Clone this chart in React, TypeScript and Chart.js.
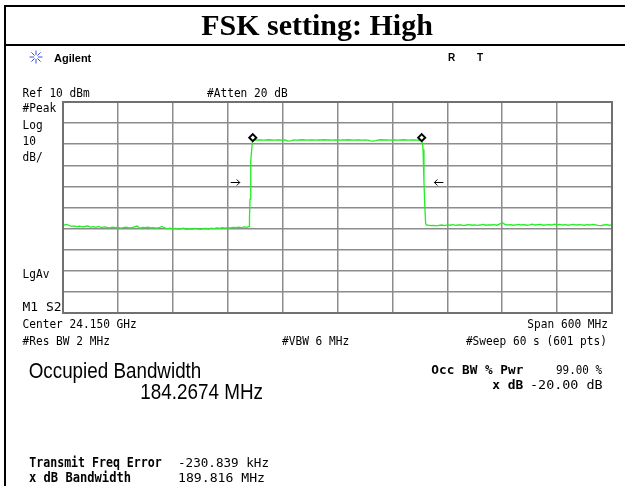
import React, { useEffect, useRef } from "react";
import { Chart, registerables } from "chart.js";

Chart.register(...registerables);

// ---------- text ----------
const titleText = "FSK setting: High";
const brandText = "Agilent";
const statusR = "R";
const statusT = "T";
const refLabel = "Ref 10 dBm";
const attenLabel = "#Atten 20 dB";
const leftLabels = ["#Peak", "Log", "10", "dB/"];
const avgLabel = "LgAv";
const markerLabel = "M1 S2";
const centerLabel = "Center 24.150 GHz";
const spanLabel = "Span 600 MHz";
const rbwLabel = "#Res BW 2 MHz";
const vbwLabel = "#VBW 6 MHz";
const sweepLabel = "#Sweep 60 s (601 pts)";
const occTitle = "Occupied Bandwidth";
const occValue = "184.2674 MHz";
const occPwrLabel = "Occ BW % Pwr";
const occPwrValue = "99.00 %";
const xdbLabel = "x dB";
const xdbValue = "-20.00 dB";
const freqErrLabel = "Transmit Freq Error";
const freqErrValue = "-230.839 kHz";
const xdbBwLabel = "x dB Bandwidth";
const xdbBwValue = "189.816 MHz";

// ---------- axes ----------
const spanStartMHz = 23850;
const spanEndMHz = 24450;
const divMHz = 60;
const refLevelDbm = 10;
const bottomLevelDbm = -90;
const dbPerDiv = 10;

// ---------- trace ----------
const sweepStepMHz = 3;
const leftNoiseStartMHz = 23850;
const leftNoiseDbm = [
  -48.6, -48.0, -48.3, -48.9, -48.7, -49.1, -48.8, -49.2, -49.0, -48.7,
  -49.3, -49.1, -49.4, -49.0, -49.5, -49.2, -49.4, -49.7, -49.3, -49.6,
  -49.4, -49.8, -49.5, -49.3, -49.7, -49.6, -49.2, -48.8, -49.8, -49.4,
  -49.6, -49.3, -49.7, -49.5, -49.8, -49.6, -49.0, -49.7, -50.0, -49.8,
  -50.1, -49.9, -50.2, -50.0, -49.8, -50.3, -50.0, -50.2, -49.9, -50.1,
  -50.3, -50.0, -49.9, -50.2, -49.8, -50.0, -49.7, -49.9, -49.6, -49.8,
  -49.5, -49.7, -49.4, -49.6, -49.3, -49.5, -49.2, -49.4,
];
const leftEdgeMHz = [24053.5, 24053.8, 24054.4, 24055.2, 24056.5, 24057.2];
const leftEdgeDbm = [-49.0, -45.0, -36.0, -18.0, -11.0, -8.3];
const plateauStartMHz = 24060;
const plateauDbm = [
  -8.1, -8.0, -8.0, -8.1, -8.0, -7.9, -8.0, -8.1, -8.0, -8.0,
  -8.1, -8.0, -8.5, -8.4, -8.0, -8.1, -8.0, -7.9, -8.0, -8.1,
  -8.0, -8.0, -8.1, -8.0, -8.0, -7.9, -8.0, -8.0, -8.1, -8.0,
  -8.0, -8.1, -8.0, -8.0, -7.9, -8.0, -8.1, -8.0, -8.0, -8.1,
  -8.0, -8.1, -8.4, -8.5, -8.3, -8.0, -7.9, -8.0, -8.0, -8.1,
  -8.0, -8.0, -8.1, -8.0, -7.9, -8.0, -8.1, -8.0, -8.0, -8.1,
  -8.2,
];
const rightEdgeMHz = [24242.6, 24243.5, 24244.5, 24245.5, 24246.3, 24247.2];
const rightEdgeDbm = [-8.3, -12.5, -28.0, -40.0, -47.5, -48.4];
const rightNoiseStartMHz = 24249;
const rightNoiseDbm = [
  -48.4, -48.6, -48.5, -48.7, -48.5, -48.3, -48.6, -48.2, -48.4, -48.1,
  -48.5, -48.3, -48.2, -48.6, -48.3, -48.1, -48.4, -48.2, -48.5, -48.3,
  -48.0, -48.4, -48.2, -48.3, -48.1, -48.4, -47.9, -47.2, -48.0, -48.3,
  -48.1, -48.4, -48.2, -48.0, -48.3, -48.1, -48.4, -48.2, -47.9, -48.3,
  -48.1, -48.0, -48.4, -48.2, -48.1, -48.3, -47.9, -48.2, -48.0, -48.3,
  -48.1, -48.4, -48.2, -48.0, -48.3, -48.1, -48.2, -48.4, -48.1, -48.3,
  -48.0, -48.2, -48.5, -48.6, -48.3, -48.1, -48.4, -48.2,
];

// markers and x dB bandwidth edges
const markerMHz = [24057.4, 24242.0];
const markerDbm = [-6.9, -6.9];
const xdbEdgeMHz = [24054.1, 24243.9];
const xdbLevelDbm = -28.1;

function buildTrace() {
  const pts: { x: number; y: number }[] = [];
  leftNoiseDbm.forEach((v, i) => pts.push({ x: leftNoiseStartMHz + i * sweepStepMHz, y: v }));
  leftEdgeMHz.forEach((f, i) => pts.push({ x: f, y: leftEdgeDbm[i] }));
  plateauDbm.forEach((v, i) => pts.push({ x: plateauStartMHz + i * sweepStepMHz, y: v }));
  rightEdgeMHz.forEach((f, i) => pts.push({ x: f, y: rightEdgeDbm[i] }));
  rightNoiseDbm.forEach((v, i) => pts.push({ x: rightNoiseStartMHz + i * sweepStepMHz, y: v }));
  return pts;
}

const MONO = '"DejaVu Sans Mono"';
const SANS = '"Liberation Sans"';
const SERIF = '"Liberation Serif"';

function txt(
  ctx: CanvasRenderingContext2D,
  s: string,
  x: number,
  y: number,
  font: string,
  opt: { align?: "left" | "right" | "center"; width?: number; sx?: number; color?: string } = {}
) {
  ctx.save();
  ctx.font = font;
  ctx.fillStyle = opt.color || "#000";
  ctx.textBaseline = "alphabetic";
  ctx.textAlign = "left";
  const w = ctx.measureText(s).width;
  const sx = opt.width ? opt.width / w : opt.sx ?? 1;
  const tw = w * sx;
  const x0 = opt.align === "right" ? x - tw : opt.align === "center" ? x - tw / 2 : x;
  ctx.translate(x0, y);
  ctx.scale(sx, 1);
  ctx.fillText(s, 0, 0);
  ctx.restore();
}

const decor = {
  id: "decor",
  beforeDraw(chart: any) {
    const ctx = chart.ctx as CanvasRenderingContext2D;
    ctx.save();
    ctx.fillStyle = "#fff";
    ctx.fillRect(0, 0, chart.width, chart.height);
    ctx.restore();
  },
  afterDraw(chart: any) {
    const ctx = chart.ctx as CanvasRenderingContext2D;
    const a = chart.chartArea;
    const xs = chart.scales.x;
    const ys = chart.scales.y;

    // outer frame
    ctx.save();
    ctx.fillStyle = "#000";
    ctx.fillRect(4, 5, 2, chart.height - 5);
    ctx.fillRect(4, 5, chart.width - 4, 2);
    ctx.fillRect(4, 44, chart.width - 4, 2);
    ctx.restore();

    // plot frame
    ctx.save();
    ctx.strokeStyle = "#707070";
    ctx.lineWidth = 2;
    ctx.strokeRect(a.left, a.top, a.right - a.left, a.bottom - a.top);
    ctx.restore();

    // title
    txt(ctx, titleText, 317, 35, `bold 30px ${SERIF}`, { align: "center" });

    // logo
    ctx.save();
    ctx.strokeStyle = "#3b4fe0";
    ctx.lineWidth = 1;
    const cx = 36, cy = 57;
    for (let k = 0; k < 8; k++) {
      const ang = (k * Math.PI) / 4;
      ctx.beginPath();
      ctx.moveTo(cx + Math.cos(ang) * 2, cy + Math.sin(ang) * 2);
      ctx.lineTo(cx + Math.cos(ang) * 6.5, cy + Math.sin(ang) * 6.5);
      ctx.stroke();
    }
    ctx.restore();
    txt(ctx, brandText, 54, 61.5, `bold 11px ${SANS}`);
    txt(ctx, statusR, 448, 61, `bold 10px ${SANS}`);
    txt(ctx, statusT, 477, 61, `bold 10px ${SANS}`);

    const m = `12px ${MONO}`;
    const msx = 0.93;
    txt(ctx, refLabel, 22.5, 97, m, { sx: msx });
    txt(ctx, attenLabel, 207, 97, m, { sx: msx });
    const lb = [112, 128.5, 144.5, 161];
    leftLabels.forEach((s, i) => txt(ctx, s, 22.5, lb[i], m, { sx: msx }));
    txt(ctx, avgLabel, 22.5, 277.5, m, { sx: msx });
    txt(ctx, markerLabel, 22.5, 310.5, m, { width: 39 });
    txt(ctx, centerLabel, 22.5, 328, m, { sx: msx });
    txt(ctx, spanLabel, 608, 328, m, { sx: msx, align: "right" });
    txt(ctx, rbwLabel, 22.5, 344.5, m, { sx: msx });
    txt(ctx, vbwLabel, 282, 344.5, m, { sx: msx });
    txt(ctx, sweepLabel, 607, 344.5, m, { sx: msx, align: "right" });

    // x dB arrows
    ctx.save();
    ctx.strokeStyle = "#000";
    ctx.lineWidth = 1;
    const ay = Math.round(ys.getPixelForValue(xdbLevelDbm)) + 0.5;
    const lx = xs.getPixelForValue(xdbEdgeMHz[0]) - 14;
    const rx = xs.getPixelForValue(xdbEdgeMHz[1]) + 15;
    ctx.beginPath();
    ctx.moveTo(lx - 5, ay); ctx.lineTo(lx + 4, ay);
    ctx.moveTo(lx + 1, ay - 3); ctx.lineTo(lx + 4, ay); ctx.lineTo(lx + 1, ay + 3);
    ctx.moveTo(rx + 5, ay); ctx.lineTo(rx - 4, ay);
    ctx.moveTo(rx - 1, ay - 3); ctx.lineTo(rx - 4, ay); ctx.lineTo(rx - 1, ay + 3);
    ctx.stroke();
    ctx.restore();

    // measurement section
    txt(ctx, occTitle, 28.7, 377.5, `22px ${SANS}`, { width: 172.6 });
    txt(ctx, occValue, 140.3, 399, `22px ${SANS}`, { width: 122.7 });
    txt(ctx, occPwrLabel, 523.3, 374, `bold 13px ${MONO}`, { width: 92, align: "right" });
    txt(ctx, occPwrValue, 602, 374, `12px ${MONO}`, { width: 46, align: "right" });
    txt(ctx, xdbLabel, 523.3, 389, `bold 13px ${MONO}`, { width: 31, align: "right" });
    txt(ctx, xdbValue, 602.6, 389, `12px ${MONO}`, { width: 72.6, align: "right" });
    txt(ctx, freqErrLabel, 29.3, 466.5, `bold 14px ${MONO}`, { width: 132.4 });
    txt(ctx, freqErrValue, 178, 466.5, `13px ${MONO}`, { width: 91 });
    txt(ctx, xdbBwLabel, 29, 482, `bold 14px ${MONO}`, { width: 102 });
    txt(ctx, xdbBwValue, 178, 482, `13px ${MONO}`, { width: 87 });
  },
};

export default function App() {
  const ref = useRef<HTMLCanvasElement | null>(null);
  useEffect(() => {
    if (!ref.current) return;
    const gridCfg = { color: "#8c8c8c", lineWidth: 1.5, drawTicks: false };
    const chart = new Chart(ref.current, {
      type: "line",
      data: {
        datasets: [
          {
            data: buildTrace(),
            borderColor: "#22ee22",
            borderWidth: 1.3,
            pointRadius: 0,
            tension: 0,
            order: 2,
          } as any,
          {
            type: "scatter",
            data: markerMHz.map((f, i) => ({ x: f, y: markerDbm[i] })),
            pointStyle: "rectRot",
            pointRadius: 3.5,
            borderColor: "#000",
            borderWidth: 2,
            backgroundColor: "#fff",
            showLine: false,
            order: 1,
          } as any,
        ],
      },
      options: {
        responsive: false,
        animation: false,
        events: [],
        layout: { padding: { left: 63, top: 102, right: 13, bottom: 173 } },
        plugins: {
          legend: { display: false },
          tooltip: { enabled: false },
          title: { display: false },
        },
        scales: {
          x: {
            type: "linear",
            min: spanStartMHz,
            max: spanEndMHz,
            ticks: { display: false, stepSize: divMHz },
            grid: gridCfg,
            border: { display: false },
          },
          y: {
            type: "linear",
            min: bottomLevelDbm,
            max: refLevelDbm,
            ticks: { display: false, stepSize: dbPerDiv },
            grid: gridCfg,
            border: { display: false },
          },
        },
      } as any,
      plugins: [decor],
    });
    return () => chart.destroy();
  }, []);
  return (
    <div style={{ position: "absolute", left: 0, top: 0, width: 625, height: 486, background: "#fff" }}>
      <canvas ref={ref} width={625} height={486} style={{ display: "block", width: 625, height: 486 }} />
    </div>
  );
}
